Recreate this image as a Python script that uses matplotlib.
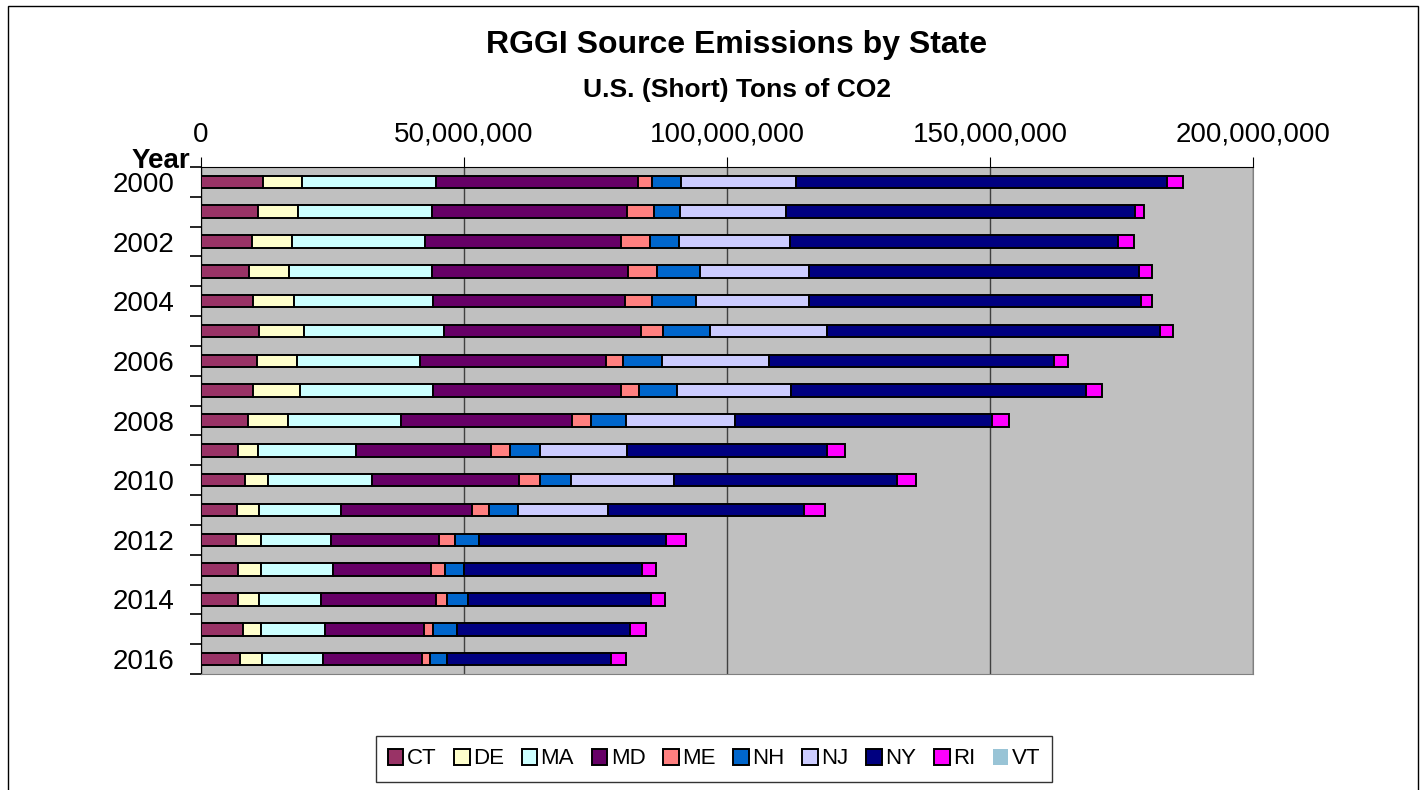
import numpy as np
import matplotlib
matplotlib.use('Agg')
import matplotlib.pyplot as plt
from matplotlib.patches import Rectangle
from matplotlib.ticker import FuncFormatter, MultipleLocator

plt.rcParams['font.family'] = ['Liberation Sans', 'DejaVu Sans']

years = list(range(2000, 2017))
states = ['CT', 'DE', 'MA', 'MD', 'ME', 'NH', 'NJ', 'NY', 'RI', 'VT']
colors = ['#993366', '#FFFFCC', '#CCFFFF', '#660066', '#FF8080',
          '#0066CC', '#CCCCFF', '#000080', '#FF00FF', '#99C4D6']

# emissions in millions of short tons
ct = [11.73, 10.84, 9.75, 9.13, 9.83, 11.08, 10.59, 9.94, 8.88, 7.03, 8.31, 6.79, 6.65, 7.03, 7.09, 7.98, 7.47]
de = [7.41, 7.66, 7.60, 7.66, 7.91, 8.44, 7.60, 8.82, 7.60, 3.80, 4.37, 4.24, 4.81, 4.32, 3.88, 3.37, 4.13]
ma = [25.48, 25.42, 25.29, 27.19, 26.43, 26.62, 23.50, 25.34, 21.48, 18.63, 19.83, 15.59, 13.25, 13.69, 11.90, 12.28, 11.54]
md = [38.40, 37.07, 37.15, 37.15, 36.39, 37.45, 35.25, 35.68, 32.51, 25.67, 27.95, 24.85, 20.59, 18.75, 21.75, 18.82, 18.94]
me = [2.78, 5.04, 5.51, 5.57, 5.19, 4.18, 3.35, 3.54, 3.67, 3.61, 3.99, 3.23, 3.04, 2.60, 2.21, 1.71, 1.46]
nh = [5.40, 5.00, 5.48, 8.12, 8.42, 9.05, 7.28, 7.13, 6.73, 5.76, 5.95, 5.63, 4.56, 3.67, 3.99, 4.45, 3.17]
nj = [21.98, 20.23, 21.20, 20.70, 21.35, 22.15, 20.38, 21.67, 20.68, 16.43, 19.58, 17.05, 0, 0, 0, 0, 0]
ny = [70.48, 66.37, 62.36, 62.83, 63.25, 63.33, 54.30, 56.16, 48.84, 38.02, 42.28, 37.26, 35.55, 33.73, 34.68, 32.95, 31.18]
ri = [3.00, 1.62, 2.97, 2.49, 2.07, 2.49, 2.49, 3.06, 3.23, 3.48, 3.61, 3.99, 3.75, 2.78, 2.66, 3.10, 2.91]
vt = [0.005] * 17

series = [ct, de, ma, md, me, nh, nj, ny, ri, vt]

fig = plt.figure(figsize=(14.26, 7.90), dpi=100)
ax = fig.add_axes([201 / 1426, 1 - 674 / 790, 1052 / 1426, 507 / 790])
ax.set_facecolor('#C0C0C0')

pos = np.arange(len(years))
left = np.zeros(len(years))
for name, vals, c in zip(states, series, colors):
    v = np.array(vals) * 1e6
    edge = 'none' if name == 'VT' else 'black'
    ax.barh(pos, v, left=left, height=0.42, color=c, edgecolor=edge,
            linewidth=1.4, label=name, zorder=3)
    left += v

ax.set_xlim(0, 200e6)
ax.set_ylim(len(years) - 0.5, -0.5)

ax.xaxis.tick_top()
ax.xaxis.set_major_locator(MultipleLocator(50e6))
ax.xaxis.set_major_formatter(FuncFormatter(lambda x, p: f'{x:,.0f}'))
ax.tick_params(axis='x', labelsize=20, length=7, pad=7, color='black')
ax.grid(axis='x', color='#404040', linewidth=1, zorder=1)

ax.set_yticks(pos)
ax.set_yticklabels([str(y) if y % 2 == 0 else '' for y in years])
ax.set_yticks(np.arange(len(years) + 1) - 0.5, minor=True)
ax.tick_params(axis='y', which='major', length=0, labelsize=20, pad=19)
ax.tick_params(axis='y', which='minor', length=8, width=1.2, direction='out')

ax.spines['left'].set_color('black')
ax.spines['top'].set_color('black')
ax.spines['right'].set_color('#808080')
ax.spines['bottom'].set_color('#808080')

fig.text(190 / 1426, 1 - 168 / 790, 'Year', fontsize=20, fontweight='bold',
         ha='right', va='baseline')
fig.text(0.5168, 1 - 45 / 790, 'RGGI Source Emissions by State', fontsize=23,
         fontweight='bold', ha='center', va='center')
fig.text(0.5168, 1 - 90 / 790, 'U.S. (Short) Tons of CO2', fontsize=19,
         fontweight='bold', ha='center', va='center')

leg = fig.legend(loc='center', bbox_to_anchor=(714 / 1426, 1 - 759 / 790), ncol=10,
                 fontsize=16, frameon=True, fancybox=False, shadow=False,
                 handlelength=0.7, handleheight=0.7, handletextpad=0.15,
                 columnspacing=0.8, borderpad=0.55)
leg.get_frame().set_edgecolor('black')
leg.get_frame().set_linewidth(1)

fig.patches.append(Rectangle((8 / 1426, -0.1), 1410 / 1426, 1.1 - 6 / 790,
                             transform=fig.transFigure, fill=False,
                             edgecolor='black', linewidth=1))

fig.savefig('out.png', dpi=100, facecolor='white')
